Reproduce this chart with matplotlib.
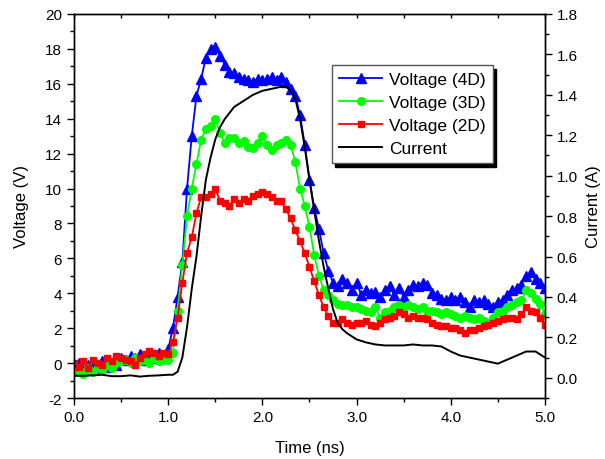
import numpy as np
import matplotlib
matplotlib.use("Agg")
import matplotlib.pyplot as plt
from matplotlib.ticker import MultipleLocator, FormatStrFormatter

plt.rcParams['font.family'] = ['Liberation Sans', 'DejaVu Sans']
plt.rcParams['axes.unicode_minus'] = False

# time grid of the voltage traces (ns)
time_v = np.linspace(0.0, 5.0, 101)

volt_4d = [-0.3, 0.0, -0.4, -0.1, -0.2, -0.3, 0.1, -0.2, 0.0, -0.1,
           0.3, 0.2, 0.4, 0.3, 0.5, 0.2, 0.4, 0.3, 0.6, 0.4,
           0.8, 2.0, 3.8, 5.8, 10.0, 13.0, 15.3, 16.3, 17.5, 18.0,
           18.1, 17.6, 17.1, 16.7, 16.6, 16.4, 16.3, 16.2, 16.1, 16.3,
           16.2, 16.3, 16.4, 16.2, 16.4, 16.1, 15.7, 15.3, 14.2, 12.5,
           10.5, 8.9, 7.7, 6.3, 5.3, 4.6, 4.4, 4.8, 4.6, 4.2,
           4.6, 3.9, 4.2, 4.0, 4.1, 3.8, 4.2, 4.4, 3.9, 4.3,
           3.8, 4.2, 4.5, 4.4, 4.6, 4.5, 4.0, 3.9, 3.7, 3.6,
           3.8, 3.6, 3.8, 3.5, 3.2, 3.6, 3.5, 3.6, 3.4, 3.2,
           3.5, 3.6, 3.9, 4.2, 4.3, 4.5, 5.0, 5.2, 4.8, 4.6,
           4.3]

volt_3d = [-0.5, -0.4, -0.6, -0.3, -0.5, -0.2, -0.4, -0.1, -0.3, 0.0,
           0.1, 0.2, 0.0, 0.3, 0.1, 0.2, 0.0, 0.3, 0.1, 0.2,
           0.2, 0.6, 3.0, 5.6, 8.4, 10.0, 11.4, 12.8, 13.4, 13.6,
           14.0, 13.2, 12.6, 12.9, 12.9, 12.6, 12.7, 12.4, 12.3, 12.6,
           13.0, 12.5, 12.2, 12.5, 12.6, 12.8, 12.5, 11.5, 10.0, 9.0,
           7.8, 6.2, 5.0, 4.2, 3.9, 3.6, 3.4, 3.3, 3.3, 3.2,
           3.2, 3.1, 3.0, 2.9, 3.2, 2.6, 2.9, 3.0, 3.2, 3.3,
           3.2, 3.3, 3.2, 3.1, 3.2, 3.0, 3.0, 2.9, 2.8, 2.9,
           2.8, 2.7, 2.6, 2.7, 2.6, 2.5, 2.6, 2.4, 2.3, 2.6,
           2.9, 3.0, 3.2, 3.3, 3.5, 3.6, 4.2, 4.0, 3.7, 3.4,
           2.8]

volt_2d = [0.0, -0.2, 0.1, -0.3, 0.2, 0.0, -0.1, 0.3, 0.1, 0.4,
           0.3, 0.2, 0.1, -0.1, 0.3, 0.5, 0.7, 0.6, 0.4, 0.6,
           0.5, 1.2, 2.6, 4.6, 6.3, 7.2, 8.6, 9.5, 9.5, 9.7,
           10.0, 9.3, 9.2, 9.0, 9.4, 9.2, 9.4, 9.3, 9.6, 9.7,
           9.8, 9.7, 9.5, 9.3, 9.3, 8.8, 8.3, 7.6, 7.0, 6.3,
           5.5, 4.7, 3.9, 3.2, 2.7, 2.3, 2.3, 2.5, 2.3, 2.2,
           2.3, 2.3, 2.4, 2.2, 2.1, 2.3, 2.5, 2.6, 2.7, 2.9,
           2.8, 2.6, 2.7, 2.6, 2.6, 2.5, 2.3, 2.2, 2.1, 2.1,
           2.0, 2.0, 1.9, 1.7, 1.9, 1.9, 2.0, 2.1, 2.2, 2.3,
           2.4, 2.5, 2.6, 2.6, 2.5, 2.8, 3.2, 3.0, 2.9, 2.6,
           2.2]

time_i = [0.0, 0.1, 0.2, 0.3, 0.4, 0.5, 0.6, 0.7, 0.8, 0.9, 1.0, 1.05, 1.1,
          1.15, 1.2, 1.25, 1.3, 1.35, 1.4, 1.45, 1.5, 1.55, 1.6, 1.7, 1.8,
          1.9, 2.0, 2.1, 2.2, 2.25, 2.3, 2.35, 2.4, 2.45, 2.5, 2.55, 2.6,
          2.65, 2.7, 2.75, 2.8, 2.85, 2.9, 3.0, 3.1, 3.2, 3.3, 3.4, 3.5,
          3.6, 3.7, 3.8, 3.9, 4.0, 4.1, 4.2, 4.3, 4.4, 4.5, 4.6, 4.7, 4.8,
          4.9, 5.0]
current = [0.01, 0.01, 0.012, 0.015, 0.008, 0.008, 0.012, 0.006, 0.01,
           0.012, 0.015, 0.015, 0.03, 0.10, 0.25, 0.44, 0.60, 0.80, 0.98,
           1.09, 1.18, 1.24, 1.28, 1.34, 1.37, 1.40, 1.42, 1.43, 1.44,
           1.44, 1.42, 1.38, 1.28, 1.14, 0.98, 0.83, 0.68, 0.55, 0.44,
           0.34, 0.27, 0.24, 0.22, 0.19, 0.175, 0.165, 0.16, 0.16, 0.16,
           0.165, 0.16, 0.16, 0.155, 0.13, 0.11, 0.10, 0.09, 0.08, 0.07,
           0.09, 0.11, 0.13, 0.13, 0.10]

fig = plt.figure(figsize=(6.05, 4.6), dpi=100)
ax = fig.add_axes([0.1223, 0.1326, 0.7785, 0.8348])
ax2 = ax.twinx()

l1, = ax.plot(time_v, volt_4d, color='#0000FF', lw=1.3, marker='^', ms=6.5,
              label='Voltage (4D)')
l2, = ax.plot(time_v, volt_3d, color='#00FF00', lw=1.3, marker='o', ms=5.5,
              label='Voltage (3D)')
l3, = ax.plot(time_v, volt_2d, color='#FF0000', lw=1.3, marker='s', ms=5,
              label='Voltage (2D)')
l4, = ax2.plot(time_i, current, color='black', lw=1.4, label='Current')

ax.set_xlim(0, 5)
ax.set_ylim(-2, 20)
ax2.set_ylim(-0.1, 1.8)

ax.xaxis.set_major_locator(MultipleLocator(1))
ax.xaxis.set_minor_locator(MultipleLocator(0.5))
ax.xaxis.set_major_formatter(FormatStrFormatter('%.1f'))
ax.yaxis.set_major_locator(MultipleLocator(2))
ax.yaxis.set_minor_locator(MultipleLocator(1))
ax2.yaxis.set_minor_locator(MultipleLocator(0.1))
ax2.set_yticks(np.arange(0, 1.81, 0.2))
ax2.yaxis.set_major_formatter(FormatStrFormatter('%.1f'))

ax.tick_params(axis='both', which='major', direction='out', length=5,
               width=1, labelsize=11)
ax.tick_params(axis='both', which='minor', direction='out', length=3, width=1)
ax.tick_params(axis='x', which='both', top=True, labeltop=False)
ax2.tick_params(axis='y', which='major', direction='out', length=5, width=1,
                labelsize=11)
ax2.tick_params(axis='y', which='minor', direction='out', length=3, width=1)

# top axis ticks point inward
for t in ax.xaxis.get_major_ticks() + ax.xaxis.get_minor_ticks():
    t.tick2line.set_marker(matplotlib.lines.TICKDOWN)
    t.tick2line.set_markersize(3)

for sp in list(ax.spines.values()) + list(ax2.spines.values()):
    sp.set_linewidth(1.0)

ax.set_xlabel('Time (ns)', fontsize=12, labelpad=12)
ax.set_ylabel('Voltage (V)', fontsize=12, labelpad=12)
ax2.set_ylabel('Current (A)', fontsize=12, labelpad=6)

leg = ax.legend(handles=[l1, l2, l3, l4], loc='upper left',
                bbox_to_anchor=(0.548, 0.867), borderaxespad=0,
                fontsize=12.5, frameon=True,
                fancybox=False, edgecolor='#555555', framealpha=1,
                handlelength=2.5, handletextpad=0.4, borderpad=0.4,
                labelspacing=0.45, markerscale=1.0,
                shadow={'ox': 2, 'oy': -3, 'facecolor': 'black',
                        'edgecolor': 'black', 'alpha': 1})
leg.get_frame().set_linewidth(1.0)
leg.remove()
ax2.add_artist(leg)

fig.savefig('out.png', dpi=100)
